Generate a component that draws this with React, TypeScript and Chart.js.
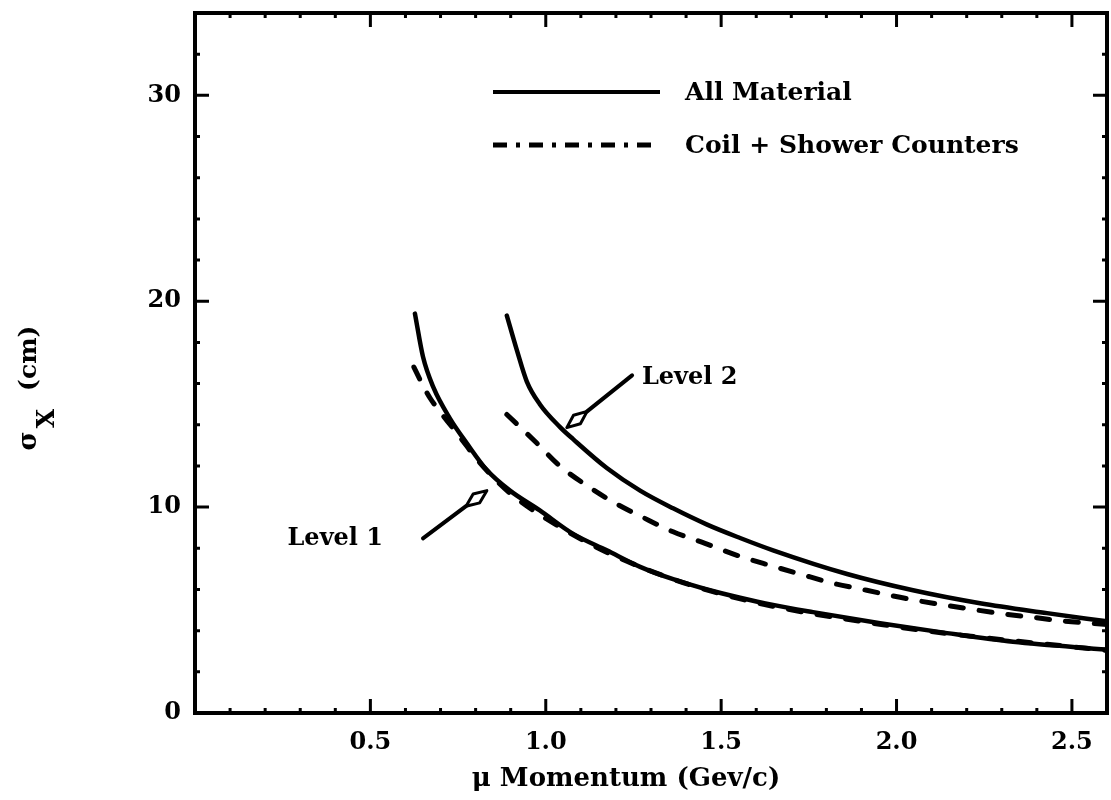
import React, { useEffect, useRef } from 'react';
import { Chart, registerables } from 'chart.js';

Chart.register(...registerables);

// ---- data ----
// Level 1, all material (solid)
const level1AllX = [0.627, 0.65, 0.68, 0.727, 0.775, 0.832, 0.898, 0.983, 1.078, 1.174, 1.269, 1.363, 1.46, 1.554, 1.648, 1.762, 1.953, 2.144, 2.332, 2.6];
const level1AllY = [19.4, 17.3, 15.8, 14.3, 13.1, 11.8, 10.8, 9.84, 8.7, 7.9, 7.1, 6.5, 6.0, 5.6, 5.25, 4.9, 4.36, 3.88, 3.46, 3.08];
// Level 1, coil + shower counters (dashed)
const level1CoilX = [0.624, 0.647, 0.67, 0.7, 0.73, 0.76, 0.8, 0.85, 0.9, 1.0, 1.2, 1.5, 2.0, 2.6];
const level1CoilY = [16.8, 16.0, 15.3, 14.6, 13.95, 13.3, 12.4, 11.45, 10.65, 9.45, 7.6, 5.78, 4.19, 3.03];
// Level 2, all material (solid)
const level2AllX = [0.889, 0.918, 0.946, 0.983, 1.04, 1.078, 1.174, 1.269, 1.363, 1.46, 1.554, 1.648, 1.859, 2.047, 2.238, 2.429, 2.6];
const level2AllY = [19.3, 17.6, 16.1, 15.0, 13.9, 13.3, 11.9, 10.8, 9.94, 9.15, 8.5, 7.9, 6.75, 5.96, 5.33, 4.85, 4.45];
// Level 2, coil + shower counters (dashed)
const level2CoilX = [0.889, 0.975, 1.04, 1.117, 1.197, 1.277, 1.363, 1.454, 1.545, 1.639, 1.725, 1.819, 1.915, 2.01, 2.104, 2.195, 2.289, 2.386, 2.48, 2.6];
const level2CoilY = [14.5, 13.1, 12.0, 11.05, 10.2, 9.5, 8.8, 8.24, 7.66, 7.17, 6.75, 6.3, 5.96, 5.62, 5.33, 5.09, 4.85, 4.65, 4.46, 4.3];

const xMajorTicks = [0.5, 1.0, 1.5, 2.0, 2.5];
const yMajorTicks = [0, 10, 20, 30];
const xRange = [0, 2.6];
const yRange = [0, 34];
const xMinorStep = 0.1;
const yMinorStep = 2;

const legendLabels = ['All Material', 'Coil + Shower Counters'];
const levelLabels = ['Level 1', 'Level 2'];
const xTitle = 'μ Momentum (Gev/c)';
const yTitleParts = ['σ', 'X', '(cm)'];

// annotation anchors in data units: [labelX, labelY, arrowTailX, arrowTailY, arrowTipX, arrowTipY]
const level1Note = [0.536, 8.48, 0.65, 8.48, 0.832, 10.8];
const level2Note = [1.274, 16.3, 1.246, 16.4, 1.06, 13.86];

const FONT = 'DejaVu Serif';

function drawArrow(ctx: CanvasRenderingContext2D, x1: number, y1: number, x2: number, y2: number) {
  const ang = Math.atan2(y2 - y1, x2 - x1);
  const c = Math.cos(ang), s = Math.sin(ang);
  const len = 26, wing = 5.5, mid = 13;
  const bx = x2 - c * len, by = y2 - s * len;
  const mx = x2 - c * mid, my = y2 - s * mid;
  ctx.save();
  ctx.strokeStyle = '#000';
  ctx.lineCap = 'round';
  ctx.lineJoin = 'round';
  ctx.lineWidth = 4;
  ctx.beginPath();
  ctx.moveTo(x1, y1);
  ctx.lineTo(bx, by);
  ctx.stroke();
  ctx.beginPath();
  ctx.moveTo(x2, y2);
  ctx.lineTo(mx - s * wing, my + c * wing);
  ctx.lineTo(bx, by);
  ctx.lineTo(mx + s * wing, my - c * wing);
  ctx.closePath();
  ctx.fillStyle = '#fff';
  ctx.fill();
  ctx.lineWidth = 3;
  ctx.stroke();
  ctx.restore();
}

const decorPlugin = {
  id: 'decor',
  afterDraw(chart: any) {
    const ctx: CanvasRenderingContext2D = chart.ctx;
    const { left, right, top, bottom } = chart.chartArea;
    const xs = chart.scales.x;
    const ys = chart.scales.y;
    ctx.save();
    ctx.strokeStyle = '#000';
    ctx.fillStyle = '#000';

    // frame
    ctx.lineWidth = 4;
    ctx.strokeRect(left, top, right - left, bottom - top);

    // ticks (inward, all four sides)
    ctx.lineWidth = 3;
    ctx.lineCap = 'butt';
    const nx = Math.round((xRange[1] - xRange[0]) / xMinorStep);
    for (let i = 1; i < nx; i++) {
      const v = xRange[0] + i * xMinorStep;
      const major = xMajorTicks.some((t) => Math.abs(t - v) < 1e-6);
      const L = major ? 14 : 5;
      const px = xs.getPixelForValue(v);
      ctx.beginPath();
      ctx.moveTo(px, bottom);
      ctx.lineTo(px, bottom - L);
      ctx.moveTo(px, top);
      ctx.lineTo(px, top + L);
      ctx.stroke();
    }
    const ny = Math.round((yRange[1] - yRange[0]) / yMinorStep);
    for (let i = 1; i < ny; i++) {
      const v = yRange[0] + i * yMinorStep;
      const major = yMajorTicks.some((t) => Math.abs(t - v) < 1e-6);
      const L = major ? 14 : 5;
      const py = ys.getPixelForValue(v);
      ctx.beginPath();
      ctx.moveTo(left, py);
      ctx.lineTo(left + L, py);
      ctx.moveTo(right, py);
      ctx.lineTo(right - L, py);
      ctx.stroke();
    }

    // legend
    const lx0 = left + 298, lx1 = left + 465, tx = left + 490;
    const rows = [top + 79, top + 132];
    ctx.lineWidth = 4;
    ctx.beginPath();
    ctx.moveTo(lx0, rows[0]);
    ctx.lineTo(lx1, rows[0]);
    ctx.stroke();
    ctx.setLineDash([14, 9, 4, 9]);
    ctx.lineWidth = 5;
    ctx.beginPath();
    ctx.moveTo(lx0, rows[1]);
    ctx.lineTo(lx1, rows[1]);
    ctx.stroke();
    ctx.setLineDash([]);
    ctx.font = `bold 25px "${FONT}"`;
    ctx.textAlign = 'left';
    ctx.textBaseline = 'middle';
    ctx.fillText(legendLabels[0], tx, rows[0] + 1);
    ctx.fillText(legendLabels[1], tx, rows[1] + 1);

    // level annotations
    ctx.font = `bold 24px "${FONT}"`;
    ctx.textAlign = 'right';
    ctx.fillText(levelLabels[0], xs.getPixelForValue(level1Note[0]), ys.getPixelForValue(level1Note[1]));
    ctx.textAlign = 'left';
    ctx.fillText(levelLabels[1], xs.getPixelForValue(level2Note[0]), ys.getPixelForValue(level2Note[1]));
    drawArrow(ctx, xs.getPixelForValue(level1Note[2]), ys.getPixelForValue(level1Note[3]), xs.getPixelForValue(level1Note[4]), ys.getPixelForValue(level1Note[5]));
    drawArrow(ctx, xs.getPixelForValue(level2Note[2]), ys.getPixelForValue(level2Note[3]), xs.getPixelForValue(level2Note[4]), ys.getPixelForValue(level2Note[5]));

    // x title
    ctx.font = `bold 26px "${FONT}"`;
    ctx.textAlign = 'center';
    ctx.textBaseline = 'middle';
    ctx.fillText(xTitle, (left + right) / 2 - 25, bottom + 66);

    // y title, rotated, with subscript X
    ctx.save();
    ctx.font = `bold 26px "${FONT}"`;
    const wS = ctx.measureText(yTitleParts[0]).width;
    ctx.font = `bold 25px "${FONT}"`;
    const wX = ctx.measureText(yTitleParts[1]).width;
    const wC = ctx.measureText(yTitleParts[2]).width;
    const gap1 = 3, gap2 = 18;
    const total = wS + gap1 + wX + gap2 + wC;
    const cy = (top + bottom) / 2 + 25;
    ctx.translate(left - 159, cy + total / 2);
    ctx.rotate(-Math.PI / 2);
    ctx.textAlign = 'left';
    ctx.textBaseline = 'alphabetic';
    ctx.font = `bold 26px "${FONT}"`;
    ctx.fillText(yTitleParts[0], 0, 0);
    ctx.font = `bold 25px "${FONT}"`;
    ctx.fillText(yTitleParts[1], wS + gap1, 18);
    ctx.fillText(yTitleParts[2], wS + gap1 + wX + gap2, 0);
    ctx.restore();

    ctx.restore();
  },
};

export default function App() {
  const ref = useRef<HTMLCanvasElement>(null);
  useEffect(() => {
    const canvas = ref.current as HTMLCanvasElement;
    const mk = (xs: number[], ys: number[]) => xs.map((x, i) => ({ x, y: ys[i] }));
    const solid = {
      borderColor: '#000',
      borderWidth: 4.5,
      pointRadius: 0,
      fill: false,
      cubicInterpolationMode: 'monotone' as const,
      borderCapStyle: 'round' as const,
      borderJoinStyle: 'round' as const,
    };
    const dashed = { ...solid, borderWidth: 5, borderDash: [13, 16] };
    const tickFont = { family: FONT, size: 24, weight: 'bold' as const };
    const chart = new Chart(canvas, {
      type: 'line',
      data: {
        datasets: [
          { label: legendLabels[0] + ' L1', data: mk(level1AllX, level1AllY), ...solid },
          { label: legendLabels[1] + ' L1', data: mk(level1CoilX, level1CoilY), ...dashed },
          { label: legendLabels[0] + ' L2', data: mk(level2AllX, level2AllY), ...solid },
          { label: legendLabels[1] + ' L2', data: mk(level2CoilX, level2CoilY), ...dashed },
        ],
      },
      options: {
        responsive: false,
        animation: false,
        devicePixelRatio: 1,
        events: [],
        layout: { padding: { left: 0, right: 4, top: 13, bottom: 0 } },
        plugins: { legend: { display: false }, tooltip: { enabled: false }, title: { display: false } },
        scales: {
          x: {
            type: 'linear',
            min: xRange[0],
            max: xRange[1],
            grid: { display: false, drawTicks: false },
            border: { display: false },
            afterBuildTicks: (s: any) => {
              s.ticks = xMajorTicks.map((v) => ({ value: v }));
            },
            afterFit: (s: any) => {
              s.height = 87;
              s.paddingLeft = 0;
              s.paddingRight = 0;
            },
            ticks: {
              padding: 15,
              color: '#000',
              font: tickFont,
              autoSkip: false,
              maxRotation: 0,
              callback: (v: any) => Number(v).toFixed(1),
            },
          },
          y: {
            type: 'linear',
            min: yRange[0],
            max: yRange[1],
            grid: { display: false, drawTicks: false },
            border: { display: false },
            afterBuildTicks: (s: any) => {
              s.ticks = yMajorTicks.map((v) => ({ value: v }));
            },
            afterFit: (s: any) => {
              s.width = 195;
              s.paddingTop = 0;
              s.paddingBottom = 0;
            },
            ticks: {
              padding: 14,
              color: '#000',
              font: tickFont,
              autoSkip: false,
              callback: (v: any) => String(v),
            },
          },
        },
      },
      plugins: [decorPlugin],
    } as any);
    return () => chart.destroy();
  }, []);
  return (
    <div style={{ position: 'absolute', left: 0, top: 0, width: 1111, height: 800, background: '#fff' }}>
      <canvas ref={ref} width={1111} height={800} style={{ display: 'block' }} />
    </div>
  );
}
